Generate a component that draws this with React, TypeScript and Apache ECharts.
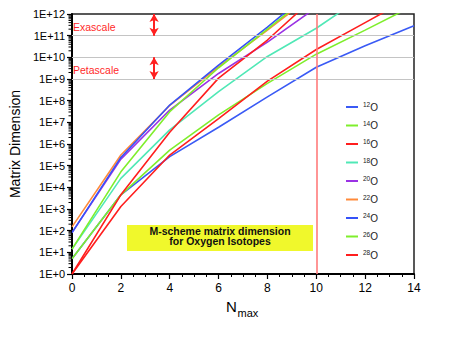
import React, { useEffect, useRef } from 'react';
import * as echarts from 'echarts';

// ---- data ----
const NMAX = [0, 2, 4, 6, 8, 10, 12, 14];
const ISOTOPES = ['12O', '14O', '16O', '18O', '20O', '22O', '24O', '26O', '28O'];
const O12 = [5, 4.5e3, 2.6e5, 5.9e6, 1.5e8, 3.5e9, 3.4e10, 2.9e11];
const O14 = [5, 4.5e3, 5.2e5, 2.2e7, 6.3e8, 1.4e10, 1.8e11, 2.5e12];
const O16 = [1, 1.3e3, 3.1e5, 1.5e7, 8e8, 2.3e10, 4e11, 7e12];
const O18 = [14, 2.6e4, 4.5e6, 2.6e8, 1.1e10, 2.2e11, 7.5e12];
const O20 = [81, 2e5, 3.7e7, 1.8e9, 5e10, 2e12];
const O22 = [150, 3.1e5, 6e7, 3.6e9, 1.8e11, 1e13];
const O24 = [81, 2.4e5, 6.3e7, 4.4e9, 2.5e11, 1.8e13];
const O26 = [14, 5.2e4, 3.1e7, 3.3e9, 2e11, 1.3e13];
const O28 = [1, 4.5e3, 3.5e6, 1.1e9, 6.3e10, 7e12];
const SERIES_VALUES = [O12, O14, O16, O18, O20, O22, O24, O26, O28];
const X_MIN = 0;
const X_MAX = 14;
const X_STEP = 2;
const Y_MIN_EXP = 0;
const Y_MAX_EXP = 12;
const SCALE_LINES = [1e9, 1e10, 1e11];
const EXASCALE = [1e11, 1e12];
const PETASCALE = [1e9, 1e10];
const ARROW_N = 3.36;
const LIMIT_N = 10;

const COLORS = ['#3a5af5', '#7fee2c', '#ff1e1e', '#50e8b6', '#9a32e4', '#ff8a3a', '#3552f8', '#7fee2c', '#ff1e1e'];
const FONT = '"Liberation Sans", Arial, Helvetica, sans-serif';

export default function App() {
  const ref = useRef<HTMLDivElement>(null);
  useEffect(() => {
    document.body.style.margin = '0';
    const chart = echarts.init(ref.current!, null, { renderer: 'svg' });

    const minorVals: number[][] = [];
    for (let e = Y_MIN_EXP; e < Y_MAX_EXP; e++) {
      for (let k = 2; k <= 9; k++) minorVals.push([0, k * Math.pow(10, e)]);
    }

    const lineSeries = ISOTOPES.map((name, i) => ({
      name,
      type: 'line',
      data: SERIES_VALUES[i].map((v, j) => [NMAX[j], v]),
      symbol: 'none',
      clip: true,
      lineStyle: { width: 1.6, color: COLORS[i] },
      itemStyle: { color: COLORS[i] },
      z: 3,
    }));

    const option: any = {
      animation: false,
      textStyle: { fontFamily: FONT },
      grid: { left: 68, top: 14, right: 46, bottom: 81, show: true, borderColor: '#222', borderWidth: 1.5 },
      xAxis: {
        type: 'value',
        min: X_MIN,
        max: X_MAX,
        interval: X_STEP,
        axisLine: { show: true, onZero: false, lineStyle: { color: '#000', width: 2 } },
        axisTick: { show: true, length: 5, lineStyle: { color: '#000', width: 1.2 } },
        minorTick: { show: true, splitNumber: 4, length: 3, lineStyle: { color: '#000', width: 1 } },
        axisLabel: { color: '#000', fontSize: 12, margin: 8, fontFamily: FONT },
        splitLine: { show: false },
      },
      yAxis: {
        type: 'log',
        logBase: 10,
        min: Math.pow(10, Y_MIN_EXP),
        max: Math.pow(10, Y_MAX_EXP),
        interval: 1,
        splitNumber: 12,
        name: 'Matrix Dimension',
        nameLocation: 'middle',
        nameGap: 36,
        nameTextStyle: { color: '#000', fontSize: 14, fontFamily: FONT },
        axisLine: { show: true, lineStyle: { color: '#000', width: 2 } },
        axisTick: { show: true, length: 5, lineStyle: { color: '#000', width: 1.2 } },
        axisLabel: {
          color: '#000',
          fontSize: 11,
          margin: 7,
          fontFamily: FONT,
          formatter: (v: number) => '1E+' + Math.round(Math.log10(v)),
        },
        splitLine: { show: false },
      },
      legend: {
        data: ISOTOPES,
        orient: 'vertical',
        left: 346,
        top: 101,
        padding: 0,
        itemWidth: 12,
        itemHeight: 2,
        itemGap: 6.5,
        icon: 'rect',
        formatter: (name: string) => `{s|${name.slice(0, 2)}}{o|O}`,
        textStyle: {
          color: '#222',
          rich: {
            s: { fontSize: 6.5, lineHeight: 14, verticalAlign: 'middle', padding: [0, 0, 5, 0], color: '#222', fontFamily: FONT },
            o: { fontSize: 10, lineHeight: 14, verticalAlign: 'middle', color: '#222', fontFamily: FONT },
          },
        },
      },
      series: [
        {
          name: 'scale-lines',
          type: 'line',
          data: [],
          z: 1,
          markLine: {
            silent: true,
            symbol: ['none', 'none'],
            label: { show: false },
            lineStyle: { color: '#c4c4c4', width: 1, type: 'solid' },
            data: SCALE_LINES.map((v) => ({ yAxis: v })),
          },
        },
        {
          name: 'limit',
          type: 'line',
          data: [],
          z: 4,
          markLine: {
            silent: true,
            symbol: ['none', 'none'],
            label: { show: false },
            lineStyle: { color: '#ff7b7b', width: 1.6, type: 'solid' },
            data: [{ xAxis: LIMIT_N }],
          },
        },
        {
          name: 'arrows',
          type: 'line',
          data: [],
          z: 4,
          markLine: {
            silent: true,
            symbol: ['arrow', 'arrow'],
            symbolSize: [7, 8],
            label: { show: false },
            lineStyle: { color: '#ff2020', width: 2, type: 'solid' },
            data: [
              [{ coord: [ARROW_N, EXASCALE[0]] }, { coord: [ARROW_N, EXASCALE[1]] }],
              [{ coord: [ARROW_N, PETASCALE[0]] }, { coord: [ARROW_N, PETASCALE[1]] }],
            ],
          },
        },
        {
          name: 'minor-y-ticks',
          type: 'custom',
          clip: false,
          silent: true,
          z: 5,
          data: minorVals,
          renderItem: (params: any, api: any) => {
            const p = api.coord([api.value(0), api.value(1)]);
            return {
              type: 'line',
              shape: { x1: p[0] - 3.5, y1: p[1], x2: p[0], y2: p[1] },
              style: { stroke: '#000', lineWidth: 1 },
            };
          },
        },
        ...lineSeries,
      ],
      graphic: [
        { type: 'text', left: 73, top: 21, style: { text: 'Exascale', fill: '#ff2a2a', font: `10.5px ${FONT}` } },
        { type: 'text', left: 73, top: 64, style: { text: 'Petascale', fill: '#ff2a2a', font: `10.5px ${FONT}` } },
        { type: 'rect', shape: { x: 127, y: 225, width: 186, height: 26 }, style: { fill: '#f0f82c' }, z: 10 },
        {
          type: 'text', x: 220, y: 230.5, z: 11,
          style: { text: 'M-scheme matrix dimension', fill: '#111', font: `bold 10.5px ${FONT}`, align: 'center', verticalAlign: 'middle' },
        },
        {
          type: 'text', x: 220, y: 241, z: 11,
          style: { text: 'for Oxygen Isotopes', fill: '#111', font: `bold 10.5px ${FONT}`, align: 'center', verticalAlign: 'middle' },
        },
        { type: 'text', x: 226, y: 306.5, style: { text: 'N', fill: '#000', font: `15px ${FONT}`, align: 'left', verticalAlign: 'middle' } },
        { type: 'text', x: 237.5, y: 312.5, style: { text: 'max', fill: '#000', font: `11px ${FONT}`, align: 'left', verticalAlign: 'middle' } },
      ],
    };

    chart.setOption(option);
    return () => chart.dispose();
  }, []);
  return <div ref={ref} style={{ width: 460, height: 355 }} />;
}
